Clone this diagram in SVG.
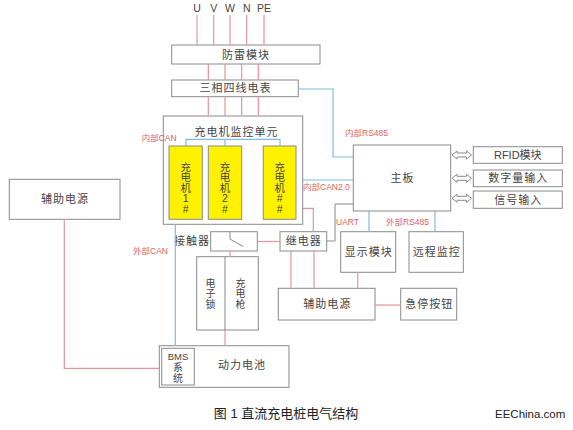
<svg xmlns="http://www.w3.org/2000/svg" width="573" height="430" viewBox="0 0 573 430">
<style>
.box{fill:#fff;stroke:#8a8a8a;stroke-width:1}
.yel{fill:#fff200;stroke:#8a8a8a;stroke-width:1}
.t{font-family:"Liberation Sans","Noto Sans CJK SC",sans-serif;font-size:11px;fill:#444;text-anchor:middle;letter-spacing:1px}
.v{font-family:"Liberation Sans","Noto Sans CJK SC",sans-serif;font-size:10.5px;fill:#444;text-anchor:middle}
.lbl{font-family:"Liberation Sans","Noto Sans CJK SC",sans-serif;font-size:8.5px;fill:#e06060}
.r{stroke:#e8939d;stroke-width:1.2;fill:none}
.b{stroke:#7fbde0;stroke-width:1.2;fill:none}
.g{stroke:#8a8a8a;stroke-width:1;fill:none}
.arr{fill:#fff;stroke:#8a8a8a;stroke-width:1}
</style>
<defs>
<polygon id="dbl" points="0,0 5,-4 5,-2 14.5,-2 14.5,-4 19.5,0 14.5,4 14.5,2 5,2 5,4" class="arr"/>
</defs>
<rect width="573" height="430" fill="#fff"/>

<g id="phases">
  <text class="v" x="197" y="12">U</text>
  <text class="v" x="213.7" y="12">V</text>
  <text class="v" x="230" y="12">W</text>
  <text class="v" x="246.7" y="12">N</text>
  <text class="v" x="264" y="12">PE</text>
</g>

<g id="surge">
  <rect class="box" x="171.7" y="45" width="148.3" height="19"/>
  <text class="t" x="246" y="59">防雷模块</text>
</g>

<g id="meter">
  <rect class="box" x="171.7" y="80" width="126.6" height="16.7"/>
  <text class="t" x="235.5" y="92.3">三相四线电表</text>
</g>

<g id="monitor">
  <rect class="box" x="163.3" y="116" width="139.4" height="108.3"/>
  <text class="t" x="236.5" y="135.7">充电机监控单元</text>
</g>

<g id="charger1">
  <rect class="yel" x="169" y="146" width="33.3" height="73.3"/>
  <text class="v" x="185.7" y="170.5">充<tspan x="185.7" dy="10.5">电</tspan><tspan x="185.7" dy="10.5">机</tspan><tspan x="185.7" dy="10.5">1</tspan><tspan x="185.7" dy="10.5">#</tspan></text>
</g>
<g id="charger2">
  <rect class="yel" x="208.3" y="146" width="33.4" height="73.3"/>
  <text class="v" x="225" y="170.5">充<tspan x="225" dy="10.5">电</tspan><tspan x="225" dy="10.5">机</tspan><tspan x="225" dy="10.5">2</tspan><tspan x="225" dy="10.5">#</tspan></text>
</g>
<g id="chargerN">
  <rect class="yel" x="263.3" y="146" width="32.7" height="73.3"/>
  <text class="v" x="279.7" y="170.5">充<tspan x="279.7" dy="10.5">电</tspan><tspan x="279.7" dy="10.5">机</tspan><tspan x="279.7" dy="10.5">#</tspan><tspan x="279.7" dy="10.5">#</tspan></text>
</g>

<g id="mainboard">
  <rect class="box" x="353.3" y="145" width="97.4" height="66"/>
  <text class="t" x="402.5" y="182">主板</text>
</g>

<g id="rfid">
  <rect class="box" x="473.3" y="146.7" width="89" height="16.6"/>
  <text class="t" x="517.8" y="159" style="letter-spacing:0">RFID模块</text>
</g>
<g id="digital">
  <rect class="box" x="473.3" y="170" width="89" height="16.7"/>
  <text class="t" x="518.3" y="182.3">数字量输入</text>
</g>
<g id="signal">
  <rect class="box" x="473.3" y="191" width="89" height="17.3"/>
  <text class="t" x="518.3" y="203.7">信号输入</text>
</g>

<g id="aux-left">
  <rect class="box" x="9.3" y="179.3" width="110.7" height="40"/>
  <text class="t" x="65" y="203.3">辅助电源</text>
</g>

<g id="contactor">
  <rect class="box" x="210.7" y="231.7" width="46.6" height="19.3"/>
  <path class="g" d="M230 231.7V239M230 239L243 246.5"/>
  <text class="t" x="210" y="245.3" style="text-anchor:end">接触器</text>
</g>

<g id="relay">
  <rect class="box" x="280" y="231.7" width="46.7" height="19.3"/>
  <text class="t" x="303.8" y="245.3">继电器</text>
</g>

<g id="display">
  <rect class="box" x="340.7" y="231.7" width="55" height="40.6"/>
  <text class="t" x="368.7" y="256">显示模块</text>
</g>

<g id="remote">
  <rect class="box" x="409" y="231.7" width="54.3" height="40.6"/>
  <text class="t" x="436.7" y="256">远程监控</text>
</g>

<g id="lock-gun">
  <rect class="box" x="196.7" y="256.7" width="61.6" height="73.3"/>
  <path class="g" d="M225 256.7V330"/>
  <text class="v" x="210.5" y="286.5" style="font-size:10px">电<tspan x="210.5" dy="10.5">子</tspan><tspan x="210.5" dy="10.5">锁</tspan></text>
  <text class="v" x="240.5" y="286.5" style="font-size:10px">充<tspan x="240.5" dy="10.5">电</tspan><tspan x="240.5" dy="10.5">枪</tspan></text>
</g>

<g id="aux-right">
  <rect class="box" x="278.3" y="288.3" width="96.7" height="31.7"/>
  <text class="t" x="327.2" y="308">辅助电源</text>
</g>

<g id="estop">
  <rect class="box" x="400.7" y="288.3" width="56" height="31.7"/>
  <text class="t" x="429.2" y="308">急停按钮</text>
</g>

<g id="battery">
  <rect class="box" x="159.3" y="345.7" width="129.7" height="41.6"/>
  <rect class="box" x="161.7" y="348.3" width="32.6" height="36.7"/>
  <text class="v" x="178" y="360" style="font-size:9.5px">BMS</text>
  <text class="v" x="178" y="371" style="font-size:10px">系</text>
  <text class="v" x="178" y="382" style="font-size:10px">统</text>
  <text class="t" x="242" y="369">动力电池</text>
</g>

<g id="connectors">
  <path class="r" d="M197 15V45M213.7 15V45M230 15V45M246.7 15V45M264 15V45"/>
  <path class="r" d="M208.3 64V80M225 64V80M241.7 64V80M258.3 64V80"/>
  <path class="r" d="M208.3 96.7V116M225 96.7V116M241.7 96.7V116M258.3 96.7V116"/>
  <path class="r" d="M302.7 208.3H313.3V231.7"/>
  <path class="r" d="M291 251V288.3M314 251V288.3"/>
  <path class="r" d="M257.3 241.5H280"/>
  <path class="r" d="M230 251V256.7"/>
  <path class="r" d="M225 330V345.7"/>
  <path class="r" d="M64.3 219.3V368.3H159.3"/>
  <path class="r" d="M357.7 272.3V288.3"/>
  <path class="r" d="M375 305H400.7"/>
  <path class="b" d="M298.3 89H333V157H353.3"/>
  <path class="b" d="M186 146V139.3H280V146M225 139.3V146"/>
  <path class="b" d="M302.7 180H353.3"/>
  <path class="b" d="M175.3 224.3V345.7"/>
  <path class="b" d="M369 211V231.7M435 211V231.7"/>
  <path class="g" d="M326.7 241H335V204H353.3"/>
  <use href="#dbl" x="452" y="155"/>
  <use href="#dbl" x="452" y="178.3"/>
  <use href="#dbl" x="452" y="198.3"/>
  <text class="lbl" x="141.7" y="141">内部CAN</text>
  <text class="lbl" x="345" y="135.7">内部RS485</text>
  <text class="lbl" x="303" y="190">内部CAN2.0</text>
  <text class="lbl" x="336" y="225">UART</text>
  <text class="lbl" x="386" y="224.7">外部RS485</text>
  <text class="lbl" x="133" y="253.7">外部CAN</text>
</g>

<g id="caption">
  <text x="286" y="417.5" style="font-family:'Liberation Sans','Noto Sans CJK SC',sans-serif;font-size:13px;fill:#222;text-anchor:middle">图 1 直流充电桩电气结构</text>
  <text x="495" y="418" style="font-family:'Liberation Sans',sans-serif;font-size:11.5px;fill:#222">EEChina.com</text>
</g>
</svg>
